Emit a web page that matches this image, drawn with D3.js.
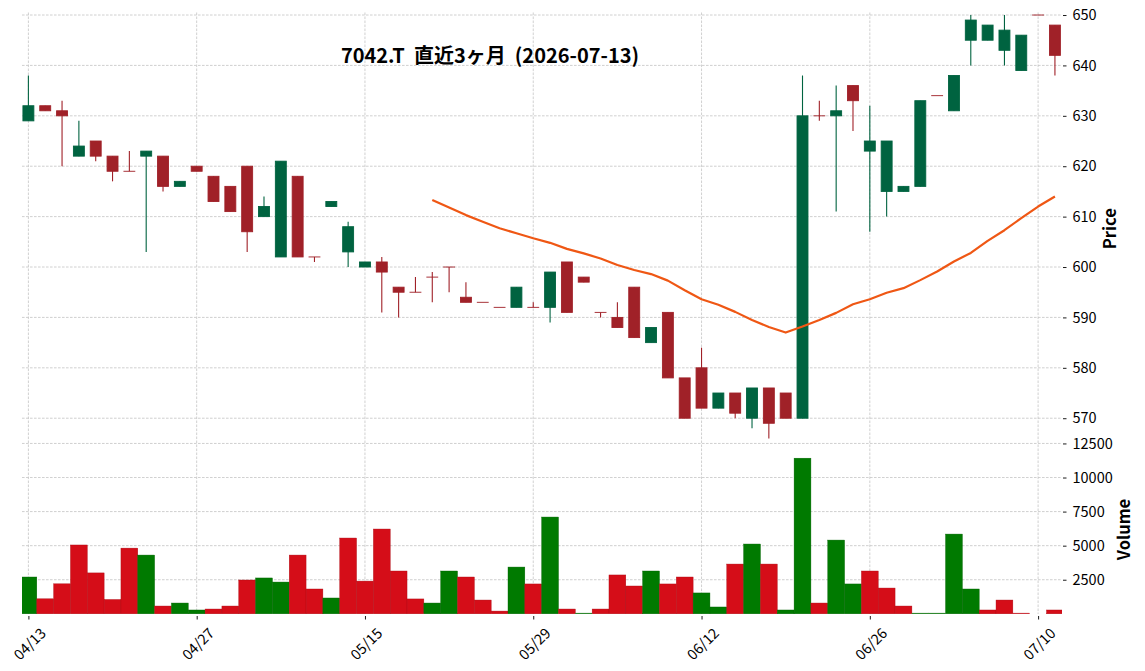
<!DOCTYPE html>
<html>
<head>
<meta charset="utf-8">
<script src="https://cdn.jsdelivr.net/npm/d3@7"></script>
<style>
  body { margin: 0; background: #fff; }
  text { font-family: "Noto Sans CJK JP", "Noto Sans", sans-serif; }
</style>
</head>
<body>
<svg id="chart" width="1145" height="671"></svg>
<script>
var dates = [
  "2026-04-13", "2026-04-14", "2026-04-15", "2026-04-16", "2026-04-17", "2026-04-20", "2026-04-21", "2026-04-22", "2026-04-23", "2026-04-24",
  "2026-04-27", "2026-04-28", "2026-04-30", "2026-05-01", "2026-05-07", "2026-05-08", "2026-05-11", "2026-05-12", "2026-05-13", "2026-05-14",
  "2026-05-15", "2026-05-18", "2026-05-19", "2026-05-20", "2026-05-21", "2026-05-22", "2026-05-25", "2026-05-26", "2026-05-27", "2026-05-28",
  "2026-05-29", "2026-06-01", "2026-06-02", "2026-06-03", "2026-06-04", "2026-06-05", "2026-06-08", "2026-06-09", "2026-06-10", "2026-06-11",
  "2026-06-12", "2026-06-15", "2026-06-16", "2026-06-17", "2026-06-18", "2026-06-19", "2026-06-22", "2026-06-23", "2026-06-24", "2026-06-25",
  "2026-06-26", "2026-06-29", "2026-06-30", "2026-07-01", "2026-07-02", "2026-07-03", "2026-07-06", "2026-07-07", "2026-07-08", "2026-07-09",
  "2026-07-10", "2026-07-13"
];

var opens = [
  629, 632, 631, 622, 625, 622, 619, 622, 622, 616,
  620, 618, 616, 620, 610, 602, 618, 602, 612, 603,
  600, 601, 596, 595, 598, 600, 594, 593, 592, 592,
  592, 592, 601, 598, 591, 590, 596, 585, 591, 578,
  580, 572, 575, 570, 576, 575, 570, 630, 630, 636,
  623, 615, 615, 616, 634, 631, 645, 645, 643, 639,
  650, 648
];
var highs = [
  638, 632, 633, 629, 625, 622, 623, 623, 622, 617,
  620, 618, 616, 620, 614, 621, 618, 602, 613, 609,
  601, 602, 596, 598, 599, 600, 597, 593, 592, 596,
  593, 599, 601, 598, 591, 593, 596, 588, 591, 578,
  584, 575, 575, 576, 576, 575, 638, 633, 636, 636,
  632, 625, 616, 633, 634, 638, 650, 648, 650, 646,
  650, 648
];
var lows = [
  629, 631, 620, 622, 621, 617, 619, 603, 615, 616,
  619, 613, 611, 603, 610, 602, 602, 601, 612, 600,
  600, 591, 590, 595, 593, 595, 593, 593, 592, 592,
  592, 589, 591, 597, 590, 588, 586, 585, 578, 570,
  572, 572, 570, 568, 566, 570, 570, 629, 611, 627,
  607, 610, 615, 616, 634, 631, 640, 645, 640, 639,
  650, 638
];
var closes = [
  632, 631, 630, 624, 622, 619, 619, 623, 616, 617,
  619, 613, 611, 607, 612, 621, 602, 602, 613, 608,
  601, 599, 595, 595, 598, 600, 593, 593, 592, 596,
  592, 599, 591, 597, 591, 588, 586, 588, 578, 570,
  572, 575, 571, 576, 569, 570, 630, 630, 631, 633,
  625, 625, 616, 633, 634, 638, 649, 648, 647, 646,
  650, 642
];
var volumes = [
  2700, 1100, 2200, 5050, 3000, 1050, 4820, 4310, 570, 790,
  280, 350, 570, 2480, 2630, 2330, 4310, 1820, 1160, 5560,
  2400, 6220, 3140, 1090, 790, 3140, 2700, 1010, 200, 3430,
  2190, 7100, 350, 50, 350, 2850, 2040, 3140, 2190, 2700,
  1530, 500, 3650, 5120, 3650, 280, 11420, 790, 5410, 2190,
  3140, 1890, 570, 50, 50, 5850, 1820, 280, 1010, 50,
  0, 280
];
// 25-day moving average of the close (null before day 25)
var ma25 = [
  null, null, null, null, null, null, null, null, null, null,
  null, null, null, null, null, null, null, null, null, null,
  null, null, null, null, 613.3, 611.8, 610.3, 609.0, 607.7, 606.7,
  605.7, 604.8, 603.6, 602.7, 601.7, 600.4, 599.4, 598.6, 597.3, 595.4,
  593.6, 592.5, 591.1, 589.5, 588.1, 587.0, 588.2, 589.5, 590.9, 592.6,
  593.6, 594.9, 595.8, 597.4, 599.1, 601.1, 602.8, 605.2, 607.3, 609.7,
  612.0, 614.0
];

var priceTicks = [570, 580, 590, 600, 610, 620, 630, 640, 650];
var volumeTicks = [2500, 5000, 7500, 10000, 12500];
var dateTickEvery = 10;
var title = "7042.T  直近3ヶ月  (2026-07-13)";

var COLORS = {
  up: "#006340", down: "#a02128",
  volUp: "#007a00", volDown: "#d50d18",
  mav: "#ef5714", grid: "#c4c4c4", text: "#000"
};

var svg = d3.select("#chart"),
    left = 22, right = 1062,
    priceTop = 12.5, priceBottom = 441,
    volTop = 441, volBottom = 614,
    n = dates.length,
    parseDate = d3.timeParse("%Y-%m-%d"),
    fmtDate = d3.timeFormat("%m/%d"),

    x = d3.scaleLinear().domain([-0.38, n - 1 + 0.42]).range([left, right]),
    step = x(1) - x(0),
    yPrice = d3.scaleLinear().domain([565.48, 650.5]).range([priceBottom, priceTop]),
    yVol = d3.scaleLinear().domain([0, 12680]).range([volBottom - 0.2, volTop]),

    idx = d3.range(n),
    xTicks = idx.filter(function(i) { return i % dateTickEvery === 0; });

svg.append("rect").attr("width", 1145).attr("height", 671).attr("fill", "#fff");

svg.append("defs").append("clipPath").attr("id", "plotclip")
  .append("rect").attr("x", left).attr("y", priceTop)
  .attr("width", right - left).attr("height", volBottom - priceTop);

// grid
var grid = svg.append("g").attr("class", "grid")
  .attr("stroke", COLORS.grid).attr("stroke-width", 0.8)
  .attr("stroke-dasharray", "2.6,1.4").attr("fill", "none");

grid.selectAll("line.v").data(xTicks).enter().append("line")
  .attr("x1", function(i) { return x(i); }).attr("x2", function(i) { return x(i); })
  .attr("y1", priceTop).attr("y2", volBottom);

grid.selectAll("line.hp").data(priceTicks).enter().append("line")
  .attr("x1", left).attr("x2", right)
  .attr("y1", function(d) { return yPrice(d); }).attr("y2", function(d) { return yPrice(d); });

grid.selectAll("line.hv").data(volumeTicks).enter().append("line")
  .attr("x1", left).attr("x2", right)
  .attr("y1", function(d) { return yVol(d); }).attr("y2", function(d) { return yVol(d); });

// volume bars, colored by close vs previous close
var volColor = function(i) {
  if (i === 0) return opens[0] < closes[0] ? COLORS.volUp : COLORS.volDown;
  return closes[i - 1] < closes[i] ? COLORS.volUp : COLORS.volDown;
};

svg.append("g").attr("clip-path", "url(#plotclip)")
  .selectAll("rect").data(idx).enter().append("rect")
    .attr("x", function(i) { return x(i) - step / 2; })
    .attr("width", step)
    .attr("y", function(i) { return yVol(volumes[i]); })
    .attr("height", function(i) { return yVol(0) - yVol(volumes[i]); })
    .attr("fill", volColor)
    .attr("stroke", function(i) { return d3.color(volColor(i)).darker(0.6); })
    .attr("stroke-width", 0.4);

// candles
var candleColor = function(i) { return opens[i] < closes[i] ? COLORS.up : COLORS.down; },
    bodyW = step * 0.65;

var candles = svg.append("g").attr("class", "candles")
  .selectAll("g").data(idx).enter().append("g");

candles.append("line")
  .attr("x1", function(i) { return x(i); }).attr("x2", function(i) { return x(i); })
  .attr("y1", function(i) { return yPrice(highs[i]); })
  .attr("y2", function(i) { return yPrice(lows[i]); })
  .attr("stroke", candleColor).attr("stroke-width", 1.1);

candles.append("rect")
  .attr("x", function(i) { return x(i) - bodyW / 2; })
  .attr("width", bodyW)
  .attr("y", function(i) { return yPrice(Math.max(opens[i], closes[i])); })
  .attr("height", function(i) { return Math.max(0.01, Math.abs(yPrice(opens[i]) - yPrice(closes[i]))); })
  .attr("fill", candleColor)
  .attr("stroke", candleColor).attr("stroke-width", 0.9);

// moving average
svg.append("path")
  .datum(idx.filter(function(i) { return ma25[i] != null; }))
  .attr("fill", "none").attr("stroke", COLORS.mav).attr("stroke-width", 2.2)
  .attr("stroke-linejoin", "round")
  .attr("d", d3.line().x(function(i) { return x(i); }).y(function(i) { return yPrice(ma25[i]); }));

// axes (right side, spines hidden)
var styleAxis = function(g) {
  g.select(".domain").remove();
  g.selectAll(".tick line").attr("stroke", "#000").attr("stroke-width", 0.9);
  g.selectAll(".tick text").attr("fill", COLORS.text).attr("font-size", 14.5)
    .attr("font-family", "'Noto Sans CJK JP', sans-serif");
};

svg.append("g").attr("transform", "translate(" + (right + 1) + ",0)")
  .call(d3.axisRight(yPrice).tickValues(priceTicks).tickSize(3.5).tickPadding(6).tickFormat(d3.format("d")))
  .call(styleAxis);

svg.append("g").attr("transform", "translate(" + (right + 1) + ",0)")
  .call(d3.axisRight(yVol).tickValues(volumeTicks).tickSize(3.5).tickPadding(6).tickFormat(d3.format("d")))
  .call(styleAxis);

var xAxis = svg.append("g").attr("transform", "translate(0," + (volBottom + 2) + ")")
  .call(d3.axisBottom(x).tickValues(xTicks).tickSize(3.5)
    .tickFormat(function(i) { return fmtDate(parseDate(dates[i])); }))
  .call(styleAxis);

xAxis.selectAll(".tick text")
  .attr("text-anchor", "middle").attr("dy", null).attr("y", null)
  .attr("dominant-baseline", "central")
  .attr("transform", "translate(0,27) rotate(-45)");

// labels
svg.append("text")
  .attr("transform", "translate(1116," + ((priceTop + priceBottom) / 2 + 2) + ") rotate(-90)")
  .attr("text-anchor", "middle").attr("font-size", 16.5).attr("font-weight", "bold")
  .text("Price");

svg.append("text")
  .attr("transform", "translate(1130," + ((volTop + volBottom) / 2 + 2) + ") rotate(-90)")
  .attr("text-anchor", "middle").attr("font-size", 16.5).attr("font-weight", "bold")
  .text("Volume");

svg.append("text")
  .attr("x", 490).attr("y", 63)
  .attr("text-anchor", "middle").attr("font-size", 20).attr("font-weight", "bold")
  .style("white-space", "pre")
  .text(title);
</script>
</body>
</html>
